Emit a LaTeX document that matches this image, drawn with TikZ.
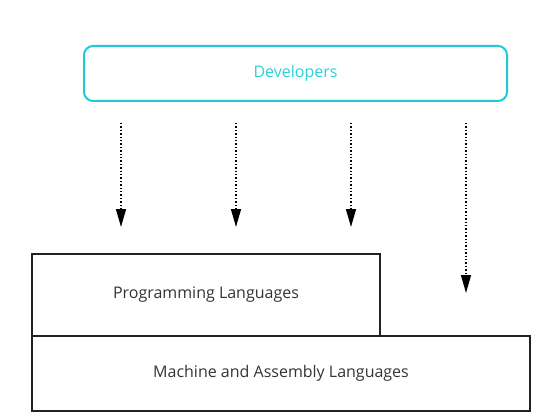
\documentclass[tikz,border=0pt]{standalone}
\usepackage{fontspec}
\setmainfont{Open Sans}
\usetikzlibrary{arrows.meta}
\definecolor{cyanline}{HTML}{1FCAD6}
\definecolor{cyantext}{HTML}{2BD0DB}
\definecolor{boxline}{HTML}{222222}
\definecolor{txt}{HTML}{333333}
\begin{document}
\begin{tikzpicture}[x=1pt,y=-1pt,
  devbox/.style={draw=cyanline,line width=2pt,rounded corners=9pt,text=cyantext,font=\fontsize{16}{19}\selectfont},
  layerbox/.style={draw=boxline,line width=2pt,text=txt,font=\fontsize{16}{19}\selectfont},
  flow/.style={dotted,line width=1.4pt,-{Triangle[length=18pt,width=10pt]}}]
\useasboundingbox (0,0) rectangle (560,420);
\draw[devbox] (84,46) rectangle (507,101) node[midway] (dev) {Developers};
\draw[layerbox] (32,254) rectangle (380,336) node[midway] (pl) {Programming Languages};
\draw[layerbox] (32,336) rectangle (530,411) node[midway] (ml) {Machine and Assembly Languages};
\coordinate (s1) at (121,123); \coordinate (e1) at (121,227);
\coordinate (s2) at (236,123); \coordinate (e2) at (236,227);
\coordinate (s3) at (351,123); \coordinate (e3) at (351,227);
\coordinate (s4) at (466,123); \coordinate (e4) at (466,293);
\draw[flow] (s1) -- (e1);
\draw[flow] (s2) -- (e2);
\draw[flow] (s3) -- (e3);
\draw[flow] (s4) -- (e4);
\end{tikzpicture}
\end{document}
